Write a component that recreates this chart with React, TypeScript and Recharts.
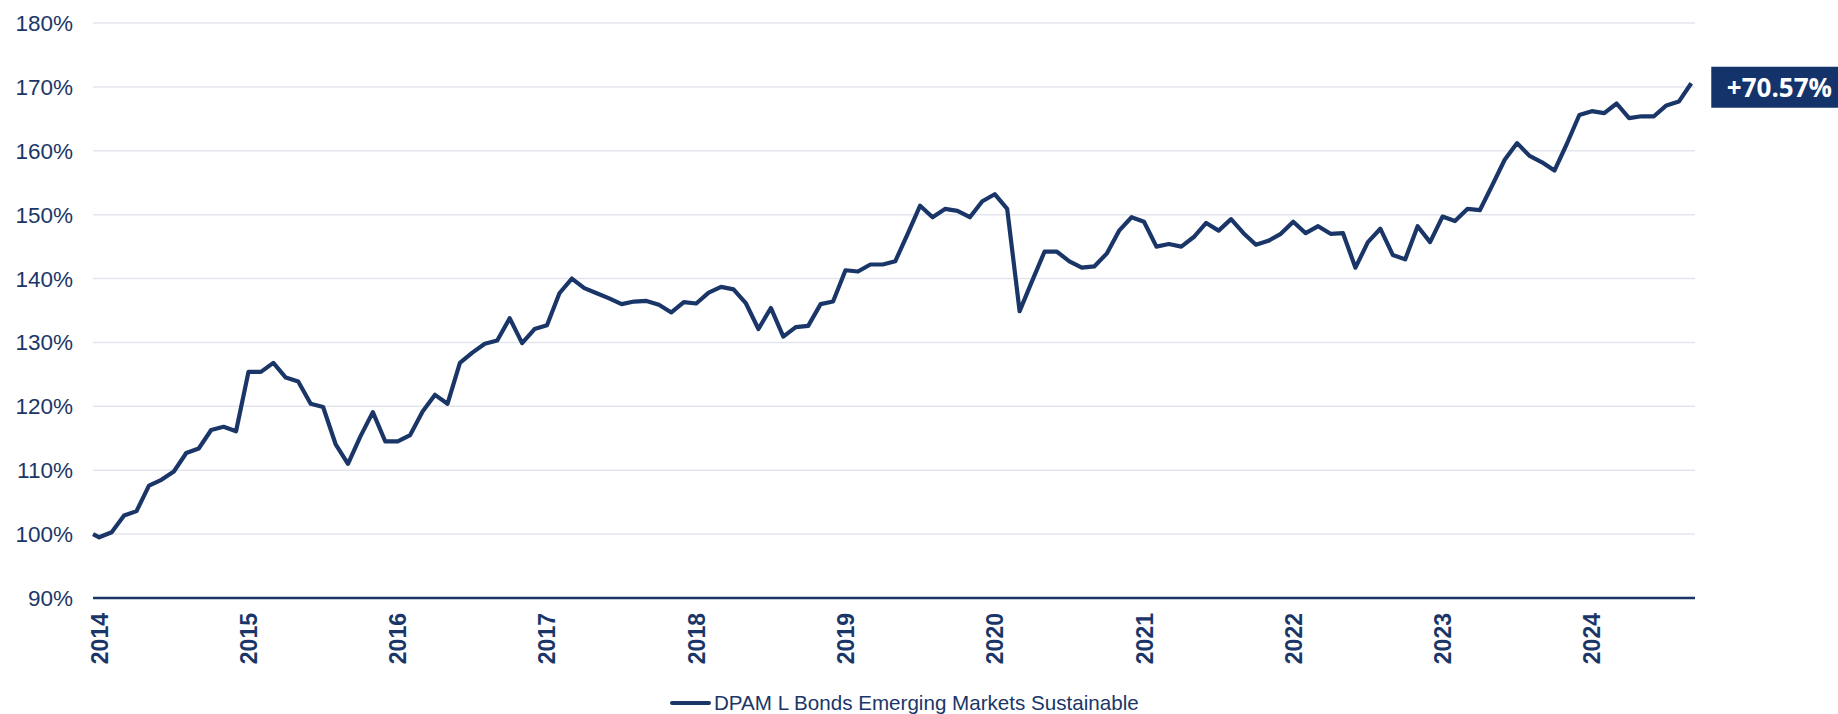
import { LineChart, Line, XAxis, YAxis, CartesianGrid, Legend, ReferenceDot } from "recharts";

// Colores
const NAVY = "#1a3668";
const LABEL_BG = "#15336b";
const GRID = "#e4e5ec";

const SERIES_NAME = "DPAM L Bonds Emerging Markets Sustainable";
const FINAL_LABEL = "+70.57%";

const years = ["2014", "2015", "2016", "2017", "2018", "2019", "2020", "2021", "2022", "2023", "2024"];
const yTicks = [90, 100, 110, 120, 130, 140, 150, 160, 170, 180];

// Valor base + cierres mensuales (ene 2014 -> sep 2024), en %
const values = [
  100.0,
  99.5, 100.3, 102.9, 103.6, 107.6, 108.5, 109.8, 112.7, 113.4, 116.3, 116.8, 116.1,
  125.4, 125.4, 126.8, 124.5, 123.9, 120.4, 119.9, 114.1, 111.0, 115.3, 119.1, 114.5,
  114.5, 115.5, 119.2, 121.8, 120.4, 126.8, 128.4, 129.8, 130.3, 133.8, 129.9, 132.1,
  132.7, 137.7, 140.0, 138.5, 137.7, 136.9, 136.0, 136.4, 136.5, 135.9, 134.7, 136.3,
  136.1, 137.8, 138.7, 138.3, 136.1, 132.1, 135.4, 130.9, 132.4, 132.6, 136.0, 136.4,
  141.3, 141.1, 142.2, 142.2, 142.7, 147.0, 151.4, 149.6, 150.9, 150.6, 149.6, 152.1,
  153.2, 150.9, 134.9, 139.6, 144.2, 144.2, 142.7, 141.7, 141.9, 143.9, 147.5, 149.6,
  148.9, 145.0, 145.4, 145.0, 146.5, 148.7, 147.5, 149.3, 147.1, 145.3, 145.9, 147.0,
  148.9, 147.1, 148.2, 147.0, 147.1, 141.7, 145.7, 147.8, 143.7, 143.0, 148.2, 145.7,
  149.7, 149.0, 150.9, 150.7, 154.6, 158.6, 161.2, 159.2, 158.2, 156.9, 161.1, 165.6,
  166.2, 165.9, 167.4, 165.1, 165.4, 165.4, 167.1, 167.7, 170.57,
];

// eje x en meses desde ene 2014; el valor base va medio mes antes
const data = values.map((v, i) => ({ m: i === 0 ? -0.5 : i - 1, v }));
const last = data[data.length - 1];
const xTicks = years.map((_, i) => i * 12);

function YearTick({ x, y, payload }: any) {
  const bx = x + 8.5;
  return (
    <text
      x={bx}
      y={y}
      transform={`rotate(-90, ${bx}, ${y})`}
      textAnchor="end"
      fontFamily='"Liberation Sans", Arial, sans-serif'
      fontWeight="bold"
      fontSize={23}
      fill={NAVY}
    >
      {years[Math.round(payload.value / 12)]}
    </text>
  );
}

function EndBadge({ cx, cy }: any) {
  const left = cx + 20;
  return (
    <g>
      <rect x={left} y={cy - 16.5} width={1838 - left} height={41} fill={LABEL_BG} />
      <text
        x={1832}
        y={cy + 4}
        textAnchor="end"
        dominantBaseline="central"
        fontFamily='"Open Sans", sans-serif'
        fontWeight="bold"
        fontSize={26}
        fill="#ffffff"
      >
        {FINAL_LABEL}
      </text>
    </g>
  );
}

function LegendBox() {
  return (
    <div style={{ display: "flex", alignItems: "center", height: 26 }}>
      <span style={{ display: "inline-block", width: 41, height: 4, background: NAVY, borderRadius: 2 }} />
      <span
        style={{
          marginLeft: 3,
          fontFamily: '"Liberation Sans", Arial, sans-serif',
          fontSize: 20.6,
          color: NAVY,
          whiteSpace: "nowrap",
        }}
      >
        {SERIES_NAME}
      </span>
    </div>
  );
}

export default function App() {
  return (
    <div style={{ position: "absolute", left: 0, top: 0, width: 1838, height: 714, background: "#fff" }}>
      <LineChart width={1838} height={714} data={data} margin={{ top: 23, right: 143, left: 0, bottom: 0 }}>
        <CartesianGrid vertical={false} stroke={GRID} strokeWidth={1.5} />
        <XAxis
          dataKey="m"
          type="number"
          domain={[-0.5, 128.3]}
          ticks={xTicks}
          interval={0}
          height={116}
          axisLine={{ stroke: NAVY, strokeWidth: 2.5 }}
          tickLine={false}
          tickSize={0}
          tickMargin={15}
          tick={<YearTick />}
        />
        <YAxis
          domain={[90, 180]}
          ticks={yTicks}
          width={93}
          axisLine={false}
          tickLine={false}
          tickSize={0}
          tickMargin={20}
          tickFormatter={(v: number) => `${v}%`}
          tick={{ fontFamily: '"Liberation Sans", Arial, sans-serif', fontSize: 22.5, fill: NAVY }}
        />
        <Legend
          layout="horizontal"
          verticalAlign="middle"
          align="center"
          wrapperStyle={{ top: 690, left: 670, width: 520, height: 26 }}
          content={() => <LegendBox />}
        />
        <Line
          type="linear"
          dataKey="v"
          name={SERIES_NAME}
          stroke={NAVY}
          strokeWidth={4.2}
          strokeLinejoin="round"
          dot={false}
          activeDot={false}
          isAnimationActive={false}
        />
        <ReferenceDot x={last.m} y={last.v} r={0} shape={(p: any) => <EndBadge {...p} />} />
      </LineChart>
    </div>
  );
}
